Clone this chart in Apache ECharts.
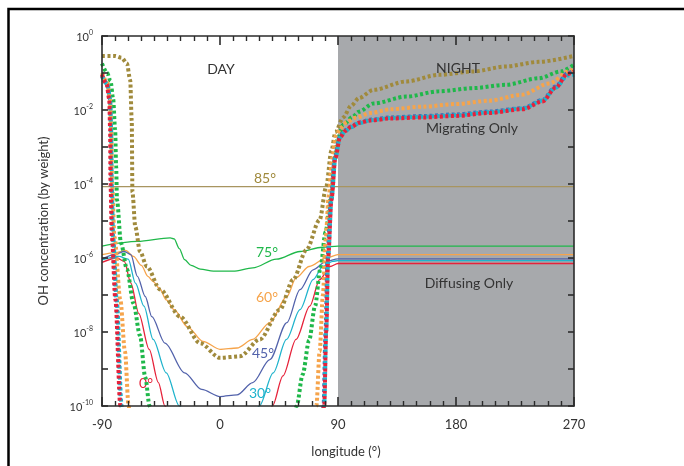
<!DOCTYPE html>
<html><head><meta charset="utf-8">
<script src="https://cdn.jsdelivr.net/npm/echarts@6/dist/echarts.min.js"></script>
<style>html,body{margin:0;padding:0;background:#fff}#c{width:684px;height:466px}</style>
</head><body><div id="c"></div><script>
// ---- data (longitude in degrees, OH concentration by weight) ----
const xTicks = [-90, 0, 90, 180, 270];
const yTickValues = [1e-10,1e-9,1e-8,1e-7,1e-6,1e-5,1e-4,1e-3,1e-2,1e-1,1];

// Diffusing only (solid lines)
const dif85 = [[-90,8.5e-5],[270,8.5e-5]];
const dif75 = [[-90,2.1e-6],[-63,2.8e-6],[-38,3.5e-6],[-35,3.3e-6],[-31,1.8e-6],[-27,9e-7],[-22,6.3e-7],[-15,5e-7],[-5,4.4e-7],[10,4.4e-7],[25,5.4e-7],[43,9.3e-7],[61,1.5e-6],[78,1.95e-6],[90,2.1e-6],[270,2.1e-6]];
const dif60 = [[-90,1.23e-6],[-80,1.4e-6],[-72,1.6e-6],[-66,1.1e-6],[-60,6.3e-7],[-55,3.2e-7],[-51,2.3e-7],[-46,1.5e-7],[-41,7.4e-8],[-35,4e-8],[-25,1.4e-8],[-13,5.6e-9],[0,3.4e-9],[13,3.7e-9],[25,6.3e-9],[38,1.8e-8],[51,9.1e-8],[58,2.9e-7],[68,5.9e-7],[81,1e-6],[90,1.23e-6],[270,1.23e-6]];
const dif45 = [[-90,9.3e-7],[-80,1.26e-6],[-73,1.5e-6],[-68,1.23e-6],[-63,3.2e-7],[-57,9.1e-8],[-52,2.6e-8],[-42,5e-9],[-27,7.9e-10],[-14,2.8e-10],[0,1.8e-10],[13,2e-10],[25,4.3e-10],[38,1.8e-9],[51,1.8e-8],[61,1.4e-7],[71,4.8e-7],[81,8.1e-7],[90,9.5e-7],[270,9.5e-7]];
const dif30 = [[-90,8.9e-7],[-77,1.1e-6],[-70,9.3e-7],[-64.5,2.1e-7],[-58,5e-8],[-51,6.3e-9],[-41,7.9e-10],[-31,1e-10],[-20,2e-11],[0,5e-12],[20,2e-11],[30,1e-10],[40.6,7.9e-10],[50.7,6.3e-9],[61,4e-8],[71,2.6e-7],[78.5,5.9e-7],[86,8.1e-7],[90,8.5e-7],[270,8.5e-7]];
const dif0 = [[-90,7.6e-7],[-78.5,1e-6],[-73,8.1e-7],[-68,2.1e-7],[-62,3.2e-8],[-54,3.4e-9],[-47,4.3e-10],[-42,1e-10],[-32,1e-11],[0,1e-12],[32,1e-11],[40,1e-10],[48,6.5e-10],[58,6.3e-9],[68.5,5e-8],[76,2.6e-7],[84,5.9e-7],[90,7.1e-7],[270,7.1e-7]];

// Migrating only (dotted lines)
const mig85 = [[-90,0.29],[-80,0.29],[-75,0.26],[-71,0.18],[-68.5,0.065],[-67.3,5e-3],[-66.8,6e-5],[-64.6,7e-6],[-61,1.5e-6],[-55.8,5.9e-7],[-45.6,1.4e-7],[-30.4,2.6e-8],[-15.2,5e-9],[0,2e-9],[15.2,2.2e-9],[30.4,6.3e-9],[45.6,4e-8],[55.8,2.6e-7],[65.9,1.66e-6],[76,1.07e-5],[81,8.5e-5],[85,8e-4],[88,2.5e-3],[94,6.3e-3],[100,0.013],[106,0.021],[117,0.035],[142,0.059],[167,0.089],[193,0.11],[218,0.15],[243,0.2],[270,0.29]];
const mig75 = [[-90,0.18],[-86,0.1],[-83.5,0.06],[-81.5,0.02],[-80,3e-3],[-79.2,3e-4],[-78.6,3.7e-5],[-75.5,2.5e-6],[-71,5e-7],[-66,6e-8],[-61,8e-9],[-57,6e-10],[-53.7,1e-10],[-45,1e-12],[50,1e-12],[58.5,1e-10],[63,7e-10],[68,6e-9],[72.5,5e-8],[76.5,5e-7],[80.5,5e-6],[84.5,4e-5],[87,4e-4],[90,1.8e-3],[94,4e-3],[101,6.5e-3],[106,9e-3],[117,0.015],[142,0.023],[167,0.032],[193,0.039],[218,0.048],[243,0.072],[260,0.11],[270,0.17]];
const mig60 = [[-90,0.1],[-86,0.055],[-84,0.02],[-83,3e-3],[-82.3,1e-4],[-80.5,3.7e-6],[-76,7.4e-8],[-72.5,3e-9],[-69.7,1e-10],[-66,1e-12],[68,1e-12],[73.5,1e-10],[76,3e-9],[78.5,1e-7],[80.5,3e-6],[83,5e-5],[85.5,5e-4],[88.5,2e-3],[92,3.3e-3],[97,4.8e-3],[104,6.3e-3],[115,8.3e-3],[130,0.0105],[155,0.0123],[180,0.0145],[205,0.0178],[230,0.0257],[251,0.052],[266,0.11],[270,0.13]];
const mig45 = [[-90,0.085],[-86,0.05],[-84,0.02],[-83.3,3e-3],[-83,1e-4],[-82,3.7e-6],[-79.2,7.4e-8],[-75.5,1e-10],[-71.5,1e-12],[75,1e-12],[79,1e-10],[80.5,1e-8],[82,1e-6],[84.5,3.7e-5],[87.5,5e-4],[91,1.8e-3],[95,2.8e-3],[100,3.6e-3],[106,4.6e-3],[115,5.5e-3],[130,6.3e-3],[155,6.9e-3],[180,7.6e-3],[205,9.1e-3],[231,0.0112],[246,0.0186],[256,0.043],[265,0.098],[270,0.12]];
const mig30 = [[-90,0.08],[-85.8,0.05],[-83.8,0.02],[-83,3e-3],[-82.6,1e-4],[-81.5,3.7e-6],[-78.8,7.4e-8],[-75,1e-10],[-71,1e-12],[75.5,1e-12],[79.5,1e-10],[81,1e-8],[82.5,1e-6],[85,3.7e-5],[88,5e-4],[91.5,1.8e-3],[95.5,2.7e-3],[100,3.4e-3],[106,4.4e-3],[115,5.3e-3],[130,6.1e-3],[155,6.6e-3],[180,7.2e-3],[205,8.7e-3],[231,0.011],[246,0.018],[256,0.04],[265,0.085],[270,0.09]];
const mig0 = [[-90,0.09],[-86.5,0.05],[-84.5,0.02],[-83.8,3e-3],[-83.5,1e-4],[-82.5,3.7e-6],[-79.8,7.4e-8],[-76,1e-10],[-72,1e-12],[75.5,1e-12],[79.5,1e-10],[81,1e-8],[82.5,1e-6],[85,3.7e-5],[88,5e-4],[91.5,1.8e-3],[95.5,2.7e-3],[100,3.5e-3],[106,4.5e-3],[115,5.2e-3],[130,5.9e-3],[155,6.3e-3],[180,6.9e-3],[205,8.3e-3],[231,0.0105],[246,0.017],[256,0.04],[265,0.095],[270,0.11]];

const C = {olive:'#a08a3c', oliveSolid:'#a89560', green:'#1fb84a', orange:'#f6a44b', blue:'#5262ab', blueDot:'#4a6cb5', cyan:'#1fb3cc', red:'#e6223a', gray:'#a7a9ac', text:'#333333'};
const FONT = 'Lato, "Open Sans", sans-serif';

function solid(name, data, color, extra) {
  return Object.assign({type:'line', name, data, symbol:'none', smooth:0.3, smoothMonotone:'x',
    lineStyle:{color, width:1.3}, z:3, silent:true}, extra || {});
}
function dotted(name, data, color) {
  return {type:'line', name, data, symbol:'none', smooth:0.3, smoothMonotone:'x',
    lineStyle:{color, width:4, type:[3,2.5]}, z:4, silent:true};
}

function xAxisDef(pos, showLabel) {
  const a = {type:'value', position:pos, min:-90, max:270, interval:90, z:10,
    axisLine:{show:true, onZero:false, lineStyle:{color:'#2b2b2b', width:1.6}},
    axisTick:{show:true, inside:true, length:9, lineStyle:{color:'#2b2b2b', width:1.6}},
    minorTick:{show:true, splitNumber:9, length:5, lineStyle:{color:'#2b2b2b', width:1.4}},
    splitLine:{show:false}, minorSplitLine:{show:false},
    axisLabel:{show:showLabel, margin:12, fontSize:13, color:C.text, fontFamily:FONT}};
  if (showLabel) {
    a.name = 'longitude (°)'; a.nameLocation = 'middle'; a.nameGap = 39;
    a.nameTextStyle = {fontSize:13, color:C.text, fontFamily:FONT, padding:[0,0,0,16]};
  }
  return a;
}
function yAxisDef(pos, showLabel) {
  const a = {type:'log', logBase:10, position:pos, min:1e-10, max:1, z:10,
    axisLine:{show:true, onZero:false, lineStyle:{color:'#2b2b2b', width:1.6}},
    axisTick:{show:true, inside:true, length:6, lineStyle:{color:'#2b2b2b', width:1.6}, customValues:yTickValues},
    minorTick:{show:false}, splitLine:{show:false}, minorSplitLine:{show:false},
    axisLabel:{show:showLabel, margin:9, customValues:yTickValues,
      formatter:function(v){ const e = Math.round(Math.log10(v)); return (e % 2 === 0) ? '{b|10}{s|' + e + '}' : ''; },
      rich:{b:{fontSize:11, color:C.text, fontFamily:FONT, lineHeight:14, verticalAlign:'bottom'},
            s:{fontSize:7, color:C.text, fontFamily:FONT, lineHeight:14, verticalAlign:'top'}}}};
  if (showLabel) {
    a.name = 'OH concentration (by weight)'; a.nameLocation = 'middle'; a.nameGap = 52;
    a.nameTextStyle = {fontSize:13, color:C.text, fontFamily:FONT};
  }
  return a;
}

const chart = echarts.init(document.getElementById('c'), null, {renderer:'canvas'});
chart.setOption({
  animation:false,
  backgroundColor:'#ffffff',
  grid:{left:102, right:110, top:36, bottom:60, containLabel:false},
  xAxis:[xAxisDef('bottom', true), xAxisDef('top', false)],
  yAxis:[yAxisDef('left', true), yAxisDef('right', false)],
  series:[
    Object.assign(solid('85° diffusing', dif85, C.oliveSolid, {z:2}), {
      markArea:{silent:true, itemStyle:{color:C.gray, opacity:1}, data:[[{xAxis:90},{xAxis:270}]]}}),
    solid('75° diffusing', dif75, C.green),
    solid('60° diffusing', dif60, C.orange),
    solid('45° diffusing', dif45, C.blue),
    solid('30° diffusing', dif30, C.cyan),
    solid('0° diffusing', dif0, C.red),
    dotted('85° migrating', mig85, C.olive),
    dotted('75° migrating', mig75, C.green),
    dotted('60° migrating', mig60, C.orange),
    dotted('45° migrating', mig45, C.blueDot),
    dotted('30° migrating', mig30, C.cyan),
    dotted('0° migrating', mig0, C.red)
  ],
  graphic:[
    {type:'polyline', silent:true, z:100, shape:{points:[[8.5,466],[8.5,9],[684,9]]}, style:{stroke:'#000', lineWidth:2.5, fill:null}},
    {type:'text', silent:true, z:100, x:221, y:69, style:{text:'DAY', fill:C.text, font:'14px '+FONT, align:'center', verticalAlign:'middle'}},
    {type:'text', silent:true, z:100, x:458, y:68, style:{text:'NIGHT', fill:C.text, font:'14px '+FONT, align:'center', verticalAlign:'middle'}},
    {type:'text', silent:true, z:100, x:472, y:128, style:{text:'Migrating Only', fill:C.text, font:'14px '+FONT, align:'center', verticalAlign:'middle'}},
    {type:'text', silent:true, z:100, x:469, y:283, style:{text:'Diffusing Only', fill:C.text, font:'14px '+FONT, align:'center', verticalAlign:'middle'}},
    {type:'text', silent:true, z:100, x:265, y:178, style:{text:'85°', fill:C.olive, font:'14px '+FONT, align:'center', verticalAlign:'middle'}},
    {type:'text', silent:true, z:100, x:267, y:252, style:{text:'75°', fill:C.green, font:'14px '+FONT, align:'center', verticalAlign:'middle'}},
    {type:'text', silent:true, z:100, x:267, y:297, style:{text:'60°', fill:C.orange, font:'14px '+FONT, align:'center', verticalAlign:'middle'}},
    {type:'text', silent:true, z:100, x:263, y:353, style:{text:'45°', fill:C.blue, font:'14px '+FONT, align:'center', verticalAlign:'middle'}},
    {type:'text', silent:true, z:100, x:260, y:393, style:{text:'30°', fill:C.cyan, font:'14px '+FONT, align:'center', verticalAlign:'middle'}},
    {type:'text', silent:true, z:3, x:146, y:383, style:{text:'0°', fill:C.red, font:'14px '+FONT, align:'center', verticalAlign:'middle'}}
  ]
});
</script></body></html>
